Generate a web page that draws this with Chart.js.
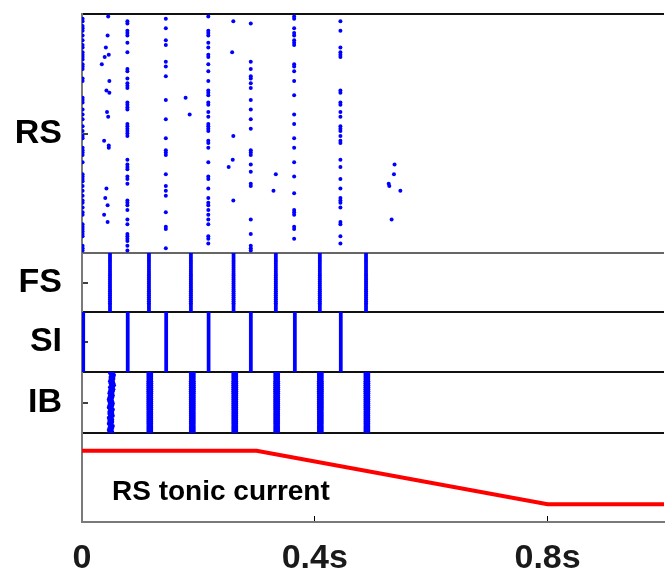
<!DOCTYPE html>
<html><head><meta charset="utf-8">
<script src="https://cdn.jsdelivr.net/npm/chart.js@4"></script>
<style>html,body{margin:0;padding:0;background:#fff}#wrap{position:relative;width:669px;height:572px}</style>
</head><body><div id="wrap"><canvas id="c"></canvas></div>
<script>
// ---------- data ----------
const populations = ['RS', 'FS', 'SI', 'IB'];
const neuronCounts = [100, 30, 30, 30];
const xTickValues = [0, 0.4, 0.8];
const xTickLabels = ['0', '0.4s', '0.8s'];

// RS: synchronous waves (s) and the neuron ids seen firing in each wave
const rsWaveTimes = [0.001, 0.078, 0.144, 0.217, 0.290, 0.3645, 0.444];
const rsWaveNeurons = [
  [98,97,95,94,93,91,89,87,86,84,83,82,81,79,78,77,73,72,65,64,63,60,58,56,53,51,49,48,44,43,42,41,38,33,32,31,30,28,26,24,22,21,19,17,16,12,11,10,9,8,7,3,2,1],
  [97,96,93,92,91,88,84,77,76,73,71,70,69,63,62,61,60,54,53,52,51,50,49,39,37,36,35,32,31,29,22,21,20,18,14,12,8,7,6,5,3,1],
  [98,94,89,87,80,78,74,64,56,48,43,42,41,33,28,26,24,17,11,10,2],
  [99,93,92,91,88,86,83,82,79,76,72,68,67,66,63,62,59,57,54,53,52,51,47,46,44,38,32,31,27,23,21,20,18,16,14,12,7,6,4],
  [96,80,77,74,73,71,69,64,60,56,52,43,42,41,37,34,29,28,14,8,3,2,1],
  [99,98,94,92,91,89,88,87,79,78,76,72,66,58,54,48,44,38,32,25,18,17,16,11,10,6],
  [97,93,86,84,83,82,68,67,63,62,59,57,53,52,51,49,47,46,39,36,31,27,23,22,21,19,13,12,7,4]
];
// RS: isolated spikes
const rsScatterTimes = [0.045,0.044,0.041,0.046,0.039,0.034,0.047,0.042,0.047,0.043,0.045,0.038,0.046,0.046,0.042,0.040,0.044,0.038,0.044,
  0.178,0.185, 0.260,0.258,0.260,0.259,0.252,0.260, 0.333,0.329, 0.537,0.536,0.527,0.528,0.547,0.532];
const rsScatterNeurons = [99,91,86,83,82,79,72,68,67,59,57,47,45,44,27,23,20,16,13,
  65,58, 97,84,49,39,36,22, 33,26, 37,33,29,28,26,14];

// FS / SI: every neuron fires at these times
const fsSpikeTimes = [0.0481, 0.1150, 0.1871, 0.2604, 0.3330, 0.4086, 0.4880];
const siSpikeTimes = [0.0022, 0.0785, 0.1447, 0.2175, 0.2901, 0.3657, 0.4446];
// IB: bursts (onset, s) and spike offsets inside a burst (s)
const ibBurstOnsets = [0.047, 0.114, 0.187, 0.260, 0.332, 0.407, 0.487];
const ibIntraBurst = [0, 0.0025, 0.005];
const ibFirstBurstShiftMs = [0,-1,0,1,-1,0,0,-1,1,0, 0,1,-1,0,1,0,-1,0,1,0, 1,2,1,3,2,1,2,2,3,1];

// RS tonic current (a.u.)
const currentTimes = [0, 0.3, 0.8, 1.0];
const currentValues = [4, 4, 1, 1];
const currentLabel = 'RS tonic current';

// ---------- build points ----------
const FONT = '"Liberation Sans", Arial, sans-serif';
const rsPts = [];
rsWaveTimes.forEach((t, i) => rsWaveNeurons[i].forEach(n => rsPts.push({x: t, y: n})));
rsScatterTimes.forEach((t, i) => rsPts.push({x: t, y: rsScatterNeurons[i]}));
const fsPts = [], siPts = [], ibPts = [];
fsSpikeTimes.forEach(t => { for (let n = 1; n <= neuronCounts[1]; n++) fsPts.push({x: t, y: n}); });
siSpikeTimes.forEach(t => { for (let n = 1; n <= neuronCounts[2]; n++) siPts.push({x: t, y: n}); });
ibBurstOnsets.forEach((t, b) => {
  for (let n = 1; n <= neuronCounts[3]; n++) {
    const shift = b === 0 ? ibFirstBurstShiftMs[n - 1] / 1000 : 0;
    ibIntraBurst.forEach(d => ibPts.push({x: t + shift + d, y: n}));
  }
});
const curPts = currentTimes.map((t, i) => ({x: t, y: currentValues[i]}));

// ---------- axes ----------
function panelAxis(label, min, max, center, weight, sepColor) {
  return {
    type: 'linear', position: 'left', stack: 'panels', stackWeight: weight,
    min: min, max: max,
    afterBuildTicks: s => { s.ticks = center === null ? [{value: max}] : [{value: center}, {value: max}]; },
    afterFit: s => { s.width = 82; s.paddingTop = 0; s.paddingBottom = 0; },
    ticks: {
      autoSkip: false, padding: 26, color: '#000',
      font: {family: FONT, size: 34, weight: 'bold'},
      callback: v => (center !== null && v === center) ? label : ''
    },
    grid: {
      lineWidth: 2, tickLength: -6, tickWidth: 1.5,
      color: c => (c.tick && c.tick.value === max) ? sepColor : 'rgba(0,0,0,0)',
      tickColor: c => (c.tick && center !== null && c.tick.value === center) ? '#000' : 'rgba(0,0,0,0)'
    },
    border: {display: true, color: '#7a7a7a', width: 2}
  };
}
const dot = {pointRadius: 2, pointBorderWidth: 0, pointBackgroundColor: '#0000ff', showLine: false, pointHoverRadius: 0};

const annot = {
  id: 'annot',
  afterDatasetsDraw(chart) {
    const {ctx, scales} = chart;
    ctx.save();
    ctx.font = 'bold 28px ' + FONT;
    ctx.fillStyle = '#000';
    ctx.textAlign = 'left';
    ctx.textBaseline = 'middle';
    ctx.fillText(currentLabel, scales.x.getPixelForValue(0.0515), scales.yCur.getPixelForValue(1.69));
    ctx.restore();
  }
};

new Chart(document.getElementById('c'), {
  type: 'scatter',
  data: {
    datasets: [
      Object.assign({label: populations[0], data: rsPts, yAxisID: 'yRS'}, dot),
      Object.assign({label: populations[1], data: fsPts, yAxisID: 'yFS'}, dot),
      Object.assign({label: populations[2], data: siPts, yAxisID: 'ySI'}, dot),
      Object.assign({label: populations[3], data: ibPts, yAxisID: 'yIB'}, dot),
      {type: 'line', label: currentLabel, data: curPts, yAxisID: 'yCur', borderColor: '#ff0000',
       borderWidth: 4, pointRadius: 0, tension: 0, fill: false}
    ]
  },
  options: {
    responsive: true, maintainAspectRatio: false, animation: false, devicePixelRatio: 1,
    layout: {padding: {top: 14, right: 5, bottom: 0, left: 0}},
    plugins: {legend: {display: false}, tooltip: {enabled: false}},
    events: [],
    scales: {
      x: {
        type: 'linear', position: 'bottom', min: 0, max: 1,
        afterBuildTicks: s => { s.ticks = xTickValues.map(v => ({value: v})); },
        afterFit: s => { s.height = 50; s.paddingLeft = 0; s.paddingRight = 0; },
        ticks: {
          autoSkip: false, maxRotation: 0, padding: 22, color: '#1a1a1a',
          font: {family: FONT, size: 34, weight: 'bold'},
          callback: v => { const i = xTickValues.indexOf(v); return i >= 0 ? xTickLabels[i] : ''; }
        },
        grid: {drawOnChartArea: false, drawTicks: true, tickLength: -6, tickColor: '#000', tickWidth: 1},
        border: {display: true, color: '#7a7a7a', width: 2}
      },
      yCur: panelAxis('', 0, 5, null, 89, '#111'),
      yIB: panelAxis(populations[3], 0.5, neuronCounts[3] + 0.5, (neuronCounts[3] + 1) / 2, 61, '#111'),
      ySI: panelAxis(populations[2], 0.5, neuronCounts[2] + 0.5, (neuronCounts[2] + 1) / 2, 60, '#111'),
      yFS: panelAxis(populations[1], 0.5, neuronCounts[1] + 0.5, (neuronCounts[1] + 1) / 2, 59, '#666'),
      yRS: panelAxis(populations[0], 0, neuronCounts[0], neuronCounts[0] / 2, 239, '#111')
    }
  },
  plugins: [annot]
});
</script>
</body></html>
